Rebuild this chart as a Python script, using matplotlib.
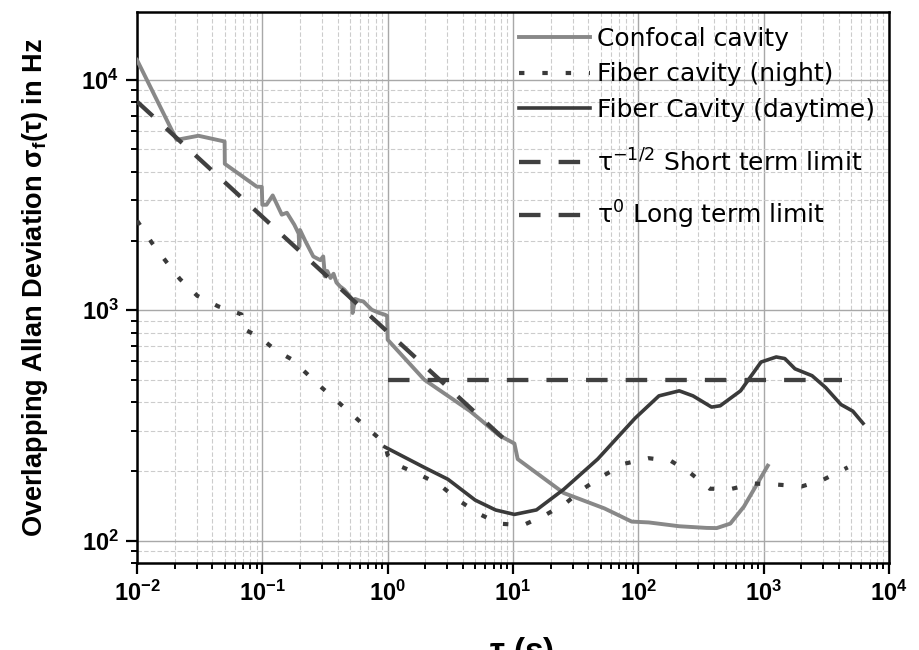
import numpy as np
import matplotlib
matplotlib.use('Agg')
import matplotlib.pyplot as plt
from matplotlib.ticker import LogLocator, NullFormatter, FixedLocator, FixedFormatter

plt.rcParams['font.family'] = ['Liberation Sans', 'DejaVu Sans']
plt.rcParams['mathtext.fontset'] = 'custom'
plt.rcParams['mathtext.rm'] = 'Liberation Sans'
plt.rcParams['mathtext.it'] = 'Liberation Sans:italic'
plt.rcParams['mathtext.bf'] = 'Liberation Sans:bold'
plt.rcParams['mathtext.default'] = 'regular'

# ---------------- data ----------------
conf_tau = [0.01, 0.0207, 0.0309, 0.0500, 0.0502, 0.0902, 0.099, 0.1, 0.108, 0.121,
            0.143, 0.157, 0.18, 0.195, 0.197, 0.2, 0.22, 0.255, 0.29, 0.306, 0.316,
            0.33, 0.35, 0.37, 0.39, 0.417, 0.45, 0.48, 0.52, 0.525, 0.55, 0.6, 0.64,
            0.7, 0.747, 0.85, 0.953, 0.99, 1.0, 1.956, 4.55, 7.73, 10.26, 10.9, 25.4,
            53.7, 88.5, 121, 212, 350, 422, 542, 696, 1079]
conf_sig = [12200, 5490, 5720, 5400, 4320, 3440, 3430, 2870, 2870, 3150,
            2600, 2650, 2350, 2150, 1890, 2230, 2000, 1712, 1650, 1712, 1402,
            1480, 1380, 1440, 1320, 1269, 1230, 1180, 1111, 973, 1120, 1100, 1092,
            1040, 1005, 975, 956, 945, 745, 500, 365, 287, 264, 226, 161,
            138, 121, 120, 115.5, 113.6, 113.4, 118.6, 140.6, 211.6]

night_tau = [0.01, 0.0132, 0.0173, 0.022, 0.0303, 0.0446, 0.0605, 0.068, 0.071,
             0.0958, 0.128, 0.17, 0.3, 0.5, 0.7, 0.95, 1.0, 1.15, 1.78, 2.59, 3.66,
             5.32, 7.73, 12.0, 18.0, 26.2, 35.8, 52.1, 78.2, 121, 181.6, 256, 372,
             559, 839, 1302, 2013, 2931, 4688]
night_sig = [2450, 1956, 1612, 1366, 1155, 1039, 982, 960, 830,
             762, 670, 614, 460, 360, 305, 265, 235, 215, 194, 175, 150,
             131, 118.6, 116.6, 129, 145, 167, 191, 216, 228, 222, 198, 168,
             168, 177, 175, 172, 183, 208]

day_tau = [0.95, 1.956, 3.03, 4.99, 7.26, 10.26, 15.4, 25.4, 47.4, 94.2, 146, 212,
           273, 384, 450, 654, 953, 1260, 1475, 1778, 2432, 3121, 4131, 5140, 6209]
day_sig = [255, 208, 184.6, 150, 135.9, 130, 136, 167, 226, 340, 425, 447,
           425, 380, 385, 447, 596, 627, 617, 557, 520, 462, 390, 365, 323]

short_tau = [0.01, 10]
short_sig = [8050, 254.6]

long_tau = [1, 4200]
long_sig = [500, 500]

labels = ['Confocal cavity', 'Fiber cavity (night)', 'Fiber Cavity (daytime)',
          r'$\tau^{-1/2}$ Short term limit', r'$\tau^{0}$ Long term limit']

xticks = [1e-2, 1e-1, 1e0, 1e1, 1e2, 1e3, 1e4]
xticklabels = [r'$\mathbf{10^{-2}}$', r'$\mathbf{10^{-1}}$', r'$\mathbf{10^{0}}$',
               r'$\mathbf{10^{1}}$', r'$\mathbf{10^{2}}$', r'$\mathbf{10^{3}}$',
               r'$\mathbf{10^{4}}$']
yticks = [1e2, 1e3, 1e4]
yticklabels = [r'$\mathbf{10^{2}}$', r'$\mathbf{10^{3}}$', r'$\mathbf{10^{4}}$']

# ---------------- figure ----------------
fig = plt.figure(figsize=(9.19, 6.5), dpi=100)
ax = fig.add_axes([137/919, 87/650, (889-137)/919, (563-12)/650])
ax.set_xscale('log')
ax.set_yscale('log')
ax.set_xlim(1e-2, 1e4)
ax.set_ylim(80, 19700)

ax.grid(True, which='major', color='#a8a8a8', lw=1.0, ls='-', zorder=0)
ax.grid(True, which='minor', color='#cccccc', lw=0.8, ls=(0, (4, 2)), zorder=0)
ax.set_axisbelow(True)

c_conf = '#888888'
c_dark = '#3a3a3a'
l1, = ax.plot(conf_tau, conf_sig, color=c_conf, lw=2.8, zorder=3)
l2, = ax.plot(night_tau, night_sig, color=c_dark, lw=3.0, ls=(0, (1.3, 4.3)), zorder=3)
l3, = ax.plot(day_tau, day_sig, color=c_dark, lw=2.6, zorder=4)
l4, = ax.plot(short_tau, short_sig, color='#404040', lw=3.1, ls=(0, (5.0, 4.2)), zorder=5)
l5, = ax.plot(long_tau, long_sig, color='#404040', lw=3.1, ls=(0, (5.0, 4.2)), zorder=5)

ax.xaxis.set_major_locator(FixedLocator(xticks))
ax.xaxis.set_major_formatter(FixedFormatter(xticklabels))
ax.yaxis.set_major_locator(FixedLocator(yticks))
ax.yaxis.set_major_formatter(FixedFormatter(yticklabels))
ax.xaxis.set_minor_locator(LogLocator(base=10, subs=np.arange(2, 10), numticks=100))
ax.yaxis.set_minor_locator(LogLocator(base=10, subs=np.arange(2, 10), numticks=100))
ax.xaxis.set_minor_formatter(NullFormatter())
ax.yaxis.set_minor_formatter(NullFormatter())

ax.tick_params(which='major', direction='out', length=8, width=1.6, labelsize=17,
               pad=5, top=False, right=False)
ax.tick_params(which='minor', direction='out', length=4.5, width=1.4,
               top=False, right=False)
for s in ax.spines.values():
    s.set_linewidth(1.8)
    s.set_color('black')

ax.set_ylabel(r'Overlapping Allan Deviation $\sigma_f(\tau)$ in Hz',
              fontsize=19.5, fontweight='bold')
ax.yaxis.set_label_coords(-0.116, 0.5)
ax.set_xlabel(r'$\tau$ (s)', fontsize=24, fontweight='bold')
ax.xaxis.set_label_coords(0.512, -0.130)
ax.xaxis.label.set_va('top')

legprop = {'family': 'DejaVu Sans', 'size': 18}
x_leg = (519 - 137) / 752
leg1 = ax.legend([l1, l2, l3], labels[:3], loc='upper left',
                 bbox_to_anchor=(x_leg, 1 - (27 - 12) / 551), frameon=False,
                 prop=legprop, handlelength=2.84, handletextpad=0.28,
                 labelspacing=0.46, borderaxespad=0.0, borderpad=0.0)
ax.add_artist(leg1)
leg2 = ax.legend([l4, l5], labels[3:], loc='upper left',
                 bbox_to_anchor=(x_leg, 1 - (149 - 12) / 551), frameon=False,
                 prop=legprop, handlelength=2.84, handletextpad=0.28,
                 labelspacing=0.9, borderaxespad=0.0, borderpad=0.0)

fig.savefig('out.png', dpi=100)
